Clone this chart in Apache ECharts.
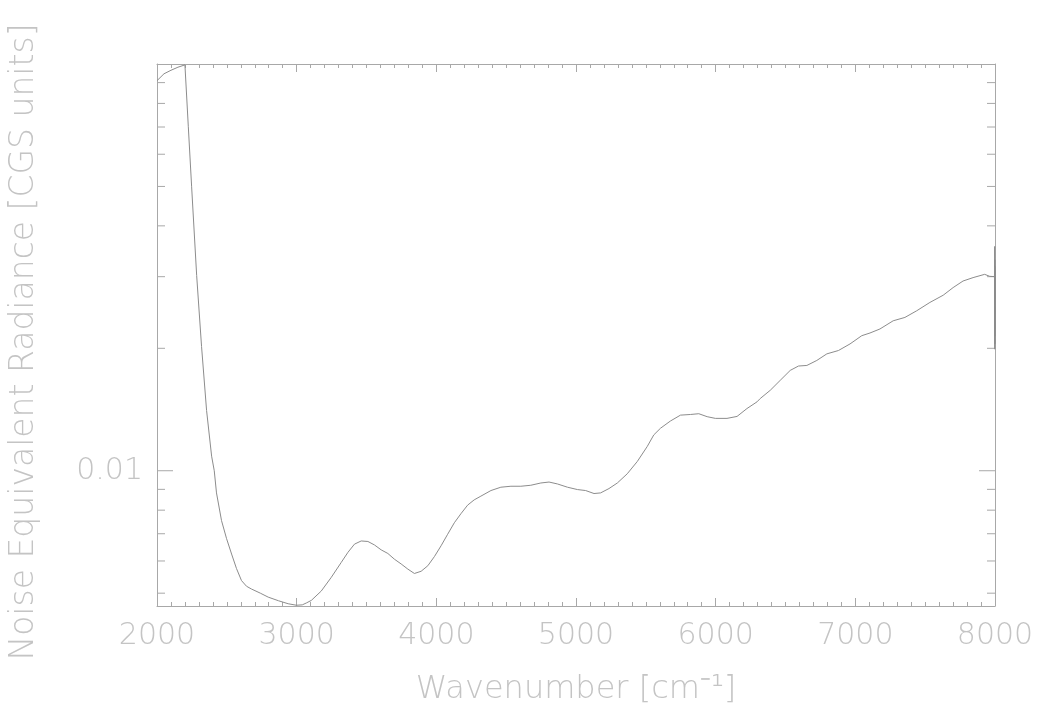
<!DOCTYPE html>
<html>
<head>
<meta charset="utf-8">
<title>Noise Equivalent Radiance</title>
<script src="https://cdn.jsdelivr.net/npm/echarts@6/dist/echarts.min.js"></script>
<style>
  html, body { margin: 0; padding: 0; background: #ffffff; }
  #chart { width: 1042px; height: 711px; }
</style>
</head>
<body>
<div id="chart"></div>
<script>
// Wavenumber grid [cm^-1]
const wavenumber = [
  2000, 2050, 2100, 2150, 2200, 2224, 2248, 2284, 2319, 2355, 2391, 2410, 2426, 2462, 2498,
  2534, 2569, 2605, 2641, 2676, 2740, 2796, 2870, 2939, 2998, 3040, 3069, 3105, 3176, 3248,
  3319, 3367, 3414, 3462, 3510, 3557, 3605, 3653, 3700, 3748, 3796, 3843, 3891, 3939, 3986,
  4034, 4081, 4129, 4176, 4224, 4271, 4319, 4391, 4462, 4534, 4605, 4676, 4748, 4807, 4867,
  4939, 5010, 5069, 5129, 5176, 5236, 5296, 5367, 5439, 5510, 5557, 5605, 5676, 5748, 5819,
  5879, 5939, 5998, 6081, 6153, 6224, 6296, 6319, 6391, 6462, 6534, 6593, 6653, 6724, 6796,
  6879, 6962, 7046, 7105, 7176, 7271, 7355, 7439, 7534, 7629, 7700, 7771, 7843, 7926, 7962,
  7996, 7997, 7997.4, 7997.8, 7998.2, 7998.6, 7999, 7999.4, 7999.8, 8000
];

// Noise equivalent radiance [CGS units]
const nerValues = [
  0.0910, 0.0946, 0.0965, 0.0982, 0.0995, 0.0703, 0.0499, 0.0302, 0.0202, 0.01406, 0.01086, 0.0100, 0.00882, 0.00754, 0.00681,
  0.00624, 0.00575, 0.00537, 0.00520, 0.00512, 0.00500, 0.00489, 0.00479, 0.00471, 0.00467, 0.00468, 0.00473, 0.00480, 0.00506, 0.00547,
  0.00595, 0.00630, 0.00660, 0.00672, 0.00670, 0.00657, 0.00639, 0.00626, 0.00606, 0.00590, 0.00573, 0.00559, 0.00566, 0.00584, 0.00615,
  0.00654, 0.00698, 0.00745, 0.00784, 0.00823, 0.00848, 0.00866, 0.00894, 0.00911, 0.00916, 0.00916, 0.00921, 0.00933, 0.00938, 0.00928,
  0.00911, 0.00899, 0.00894, 0.00879, 0.00882, 0.00904, 0.00933, 0.00983, 0.01054, 0.01147, 0.01225, 0.01272, 0.01325, 0.01370, 0.01375,
  0.01381, 0.01358, 0.01345, 0.01345, 0.01360, 0.01422, 0.01477, 0.01505, 0.01577, 0.01668, 0.01765, 0.01809, 0.01815, 0.01867, 0.01938,
  0.01975, 0.02050, 0.02148, 0.02181, 0.02231, 0.02337, 0.02382, 0.02473, 0.02593, 0.02701, 0.02820, 0.02927, 0.02984, 0.03040, 0.03006,
  0.03001, 0.0312, 0.0214, 0.0356, 0.0199, 0.0330, 0.0205, 0.0318, 0.0215, 0.0300
];

// Axis ranges and tick values
const xRange = [2000, 8000];
const xMajorStep = 1000;
const yRange = [0.00465, 0.1];
const yMajorTicks = [0.01];
const yMinorTicks = [0.005, 0.006, 0.007, 0.008, 0.009, 0.02, 0.03, 0.04, 0.05, 0.06, 0.07, 0.08, 0.09];

const xTitle = 'Wavenumber [cm\u207B\u00B9]';
const yTitle = 'Noise Equivalent Radiance [CGS units]';

const AXIS_COLOR = '#a8a8a8';
const TEXT_COLOR = '#c4c4c4';
const LINE_COLOR = '#8c8c8c';
const FONT = "'DejaVu Sans', sans-serif";

const chart = echarts.init(document.getElementById('chart'), null, { renderer: 'canvas' });

const series = wavenumber.map((w, i) => [w, nerValues[i]]);

// Y tick marks drawn on both frame sides (major longer than minor)
const yTickData = yMajorTicks.map(v => [v, 1]).concat(yMinorTicks.map(v => [v, 0]));

const xAxisCommon = {
  type: 'value',
  min: xRange[0],
  max: xRange[1],
  interval: xMajorStep,
  axisLine: { show: true, onZero: false, lineStyle: { color: AXIS_COLOR, width: 1 } },
  axisTick: { show: true, inside: true, length: 8, lineStyle: { color: AXIS_COLOR } },
  minorTick: { show: true, splitNumber: 10, length: 4, lineStyle: { color: AXIS_COLOR } },
  splitLine: { show: false },
  minorSplitLine: { show: false }
};

const yAxisCommon = {
  type: 'log',
  logBase: 10,
  min: yRange[0],
  max: yRange[1],
  axisLine: { show: true, onZero: false, lineStyle: { color: AXIS_COLOR, width: 1 } },
  axisTick: { show: false },
  splitLine: { show: false }
};

chart.setOption({
  animation: false,
  backgroundColor: '#ffffff',
  grid: { left: 155, right: 47, top: 64, bottom: 102, containLabel: false },
  xAxis: [
    Object.assign({}, xAxisCommon, {
      position: 'bottom',
      name: xTitle,
      nameLocation: 'middle',
      nameGap: 68,
      nameTextStyle: { color: TEXT_COLOR, fontSize: 32, fontFamily: FONT, fontWeight: 200 },
      axisLabel: {
        show: true, color: TEXT_COLOR, fontSize: 30, fontFamily: FONT, fontWeight: 200, margin: 15,
        formatter: v => String(v)
      }
    }),
    Object.assign({}, xAxisCommon, {
      position: 'top',
      axisLabel: { show: false }
    })
  ],
  yAxis: [
    Object.assign({}, yAxisCommon, {
      position: 'left',
      name: yTitle,
      nameLocation: 'middle',
      nameGap: 116,
      nameTextStyle: { color: TEXT_COLOR, fontSize: 33, fontFamily: FONT, fontWeight: 200, padding: [0, 14, 0, 0] },
      axisLabel: {
        show: true, color: TEXT_COLOR, fontSize: 30, fontFamily: FONT, fontWeight: 200, margin: 14,
        showMinLabel: false, showMaxLabel: false,
        formatter: v => (Math.abs(Math.log10(v) + 2) < 1e-6 ? '0.01' : '')
      }
    }),
    Object.assign({}, yAxisCommon, {
      position: 'right',
      axisLabel: { show: false }
    })
  ],
  series: [
    {
      type: 'line',
      data: series,
      xAxisIndex: 0,
      yAxisIndex: 0,
      showSymbol: false,
      symbol: 'none',
      sampling: 'none',
      smooth: false,
      lineStyle: { color: LINE_COLOR, width: 1 },
      silent: true,
      z: 3
    },
    {
      type: 'custom',
      xAxisIndex: 0,
      yAxisIndex: 0,
      data: yTickData,
      silent: true,
      clip: false,
      z: 2,
      renderItem: function (params, api) {
        const v = api.value(0);
        const major = api.value(1) === 1;
        const len = major ? 16 : 8;
        const left = api.coord([xRange[0], v]);
        const right = api.coord([xRange[1], v]);
        const style = { stroke: AXIS_COLOR, lineWidth: 1 };
        return {
          type: 'group',
          children: [
            { type: 'line', shape: { x1: left[0], y1: left[1], x2: left[0] + len, y2: left[1] }, style: style },
            { type: 'line', shape: { x1: right[0], y1: right[1], x2: right[0] - len, y2: right[1] }, style: style }
          ]
        };
      }
    }
  ]
});
</script>
</body>
</html>
